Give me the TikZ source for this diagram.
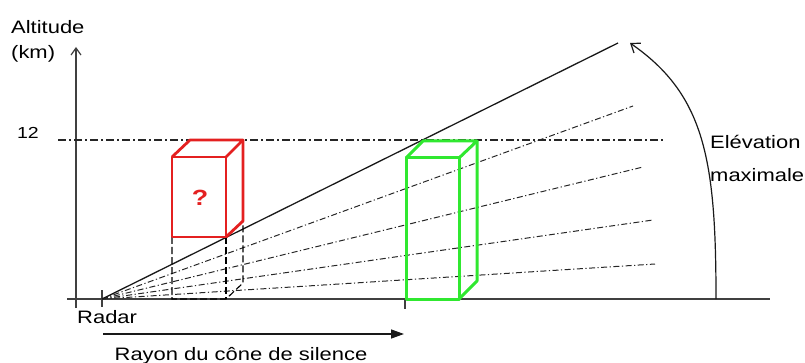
\documentclass[tikz,border=0pt]{standalone}
\usepackage{fontspec}
\setmainfont{Liberation Sans}[FakeStretch=1.22]
\usetikzlibrary{arrows.meta}
\definecolor{boxred}{RGB}{228,32,32}
\definecolor{boxgreen}{RGB}{48,232,48}
\tikzset{
  axisline/.style={draw=black!75, line width=1.2pt},
  beam/.style={draw=black!90, line width=1.3pt},
  ray/.style={draw=black!85, line width=1pt, dash pattern=on 6pt off 2.5pt on 1.2pt off 2.5pt},
  level/.style={draw=black!85, line width=1.1pt, dash pattern=on 8pt off 3pt on 2pt off 3pt},
  redbox/.style={draw=boxred, line width=2.8pt, line join=round},
  greenbox/.style={draw=boxgreen, line width=3pt, line join=round},
  hidden/.style={draw=black, line width=1.1pt, dash pattern=on 7pt off 3pt},
  lbl/.style={inner sep=0pt, font=\fontsize{18}{21}\selectfont}
}
\begin{document}
\begin{tikzpicture}[x=1pt,y=-1pt]
\useasboundingbox (0,0) rectangle (805,363);

% key points
\coordinate (radar) at (102,299);
\coordinate (ybot) at (76,308);
\coordinate (ytop) at (76,47);
\coordinate (xl) at (67,299);
\coordinate (xr) at (770,299);
\coordinate (lvlA) at (58,140);
\coordinate (lvlB) at (663,140);
\coordinate (beamEnd) at (618,43);
\coordinate (r1) at (633,106);
\coordinate (r2) at (643,167);
\coordinate (r3) at (653,220);
\coordinate (r4) at (655,264);
\coordinate (arcA) at (716,299);
\coordinate (arcB) at (630,43);

% axes
\draw[axisline, -{Straight Barb[length=7pt,width=10pt]}] (ybot) -- (ytop);
\draw[axisline] (xl) -- (xr);
\draw[level] (lvlA) -- (lvlB);

% radar ticks
\coordinate (tk1a) at (102,290); \coordinate (tk1b) at (102,307);
\coordinate (tk2a) at (405,299); \coordinate (tk2b) at (405,309);
\draw[axisline] (tk1a) -- (tk1b);
\draw[axisline] (tk2a) -- (tk2b);

% beams
\draw[ray] (radar) -- (r1);
\draw[ray] (radar) -- (r2);
\draw[ray] (radar) -- (r3);
\draw[ray] (radar) -- (r4);
\draw[beam] (radar) -- (beamEnd);

% elevation sweep
\draw[beam, line width=1.2pt, -{Straight Barb[length=8pt,width=12pt]}]
  (arcA) .. controls (716,160) and (705,95) .. (arcB);

% red target (hidden part)
\coordinate (rfbl) at (172,237); \coordinate (rfbr) at (226,237);
\coordinate (rftl) at (172,157); \coordinate (rftr) at (226,157);
\coordinate (rbtl) at (190,140); \coordinate (rbtr) at (243,140);
\coordinate (rbbr) at (243,221);
\coordinate (gl) at (172,299); \coordinate (gm) at (226,299);
\coordinate (gr) at (243,283);
\draw[hidden] (rfbl) -- (gl) -- (gm) -- (gr) -- (rbbr);
\draw[hidden] (rfbr) -- (gm);

% red target
\draw[redbox] (rfbl) rectangle (rftr);
\draw[redbox] (rftl) -- (rbtl) -- (rbtr) -- (rftr);
\draw[redbox] (rbtr) -- (rbbr) -- (rfbr);
\node[lbl, text=boxred, font=\fontsize{22}{26}\selectfont\bfseries] (q) at (200,198) {?};

% green target
\coordinate (gfbl) at (406,299); \coordinate (gfbr) at (459,299);
\coordinate (gftl) at (406,158); \coordinate (gftr) at (459,158);
\coordinate (gbtl) at (423,141); \coordinate (gbtr) at (477,141);
\coordinate (gbbr) at (477,281);
\draw[greenbox] (gfbl) rectangle (gftr);
\draw[greenbox] (gftl) -- (gbtl) -- (gbtr) -- (gftr);
\draw[greenbox] (gbtr) -- (gbbr) -- (gfbr);

% silence cone radius
\coordinate (rayA) at (103,334);
\coordinate (rayB) at (404,334);
\draw[beam, -{Triangle[length=13pt,width=9pt]}] (rayA) -- (rayB);

% labels
\node[lbl, anchor=west] (alt) at (11,27) {Altitude};
\node[lbl, anchor=west] (km) at (11,54) {(km)};
\node[lbl, font=\fontsize{16}{19}\selectfont] (twelve) at (28,133) {12};
\node[lbl, anchor=west] (rad) at (77,317) {Radar};
\node[lbl, anchor=west] (elev) at (710,142) {Elévation};
\node[lbl, anchor=west] (maxi) at (710,175) {maximale};
\node[lbl] (rayon) at (241,356) {Rayon du cône de silence};
\end{tikzpicture}
\end{document}
